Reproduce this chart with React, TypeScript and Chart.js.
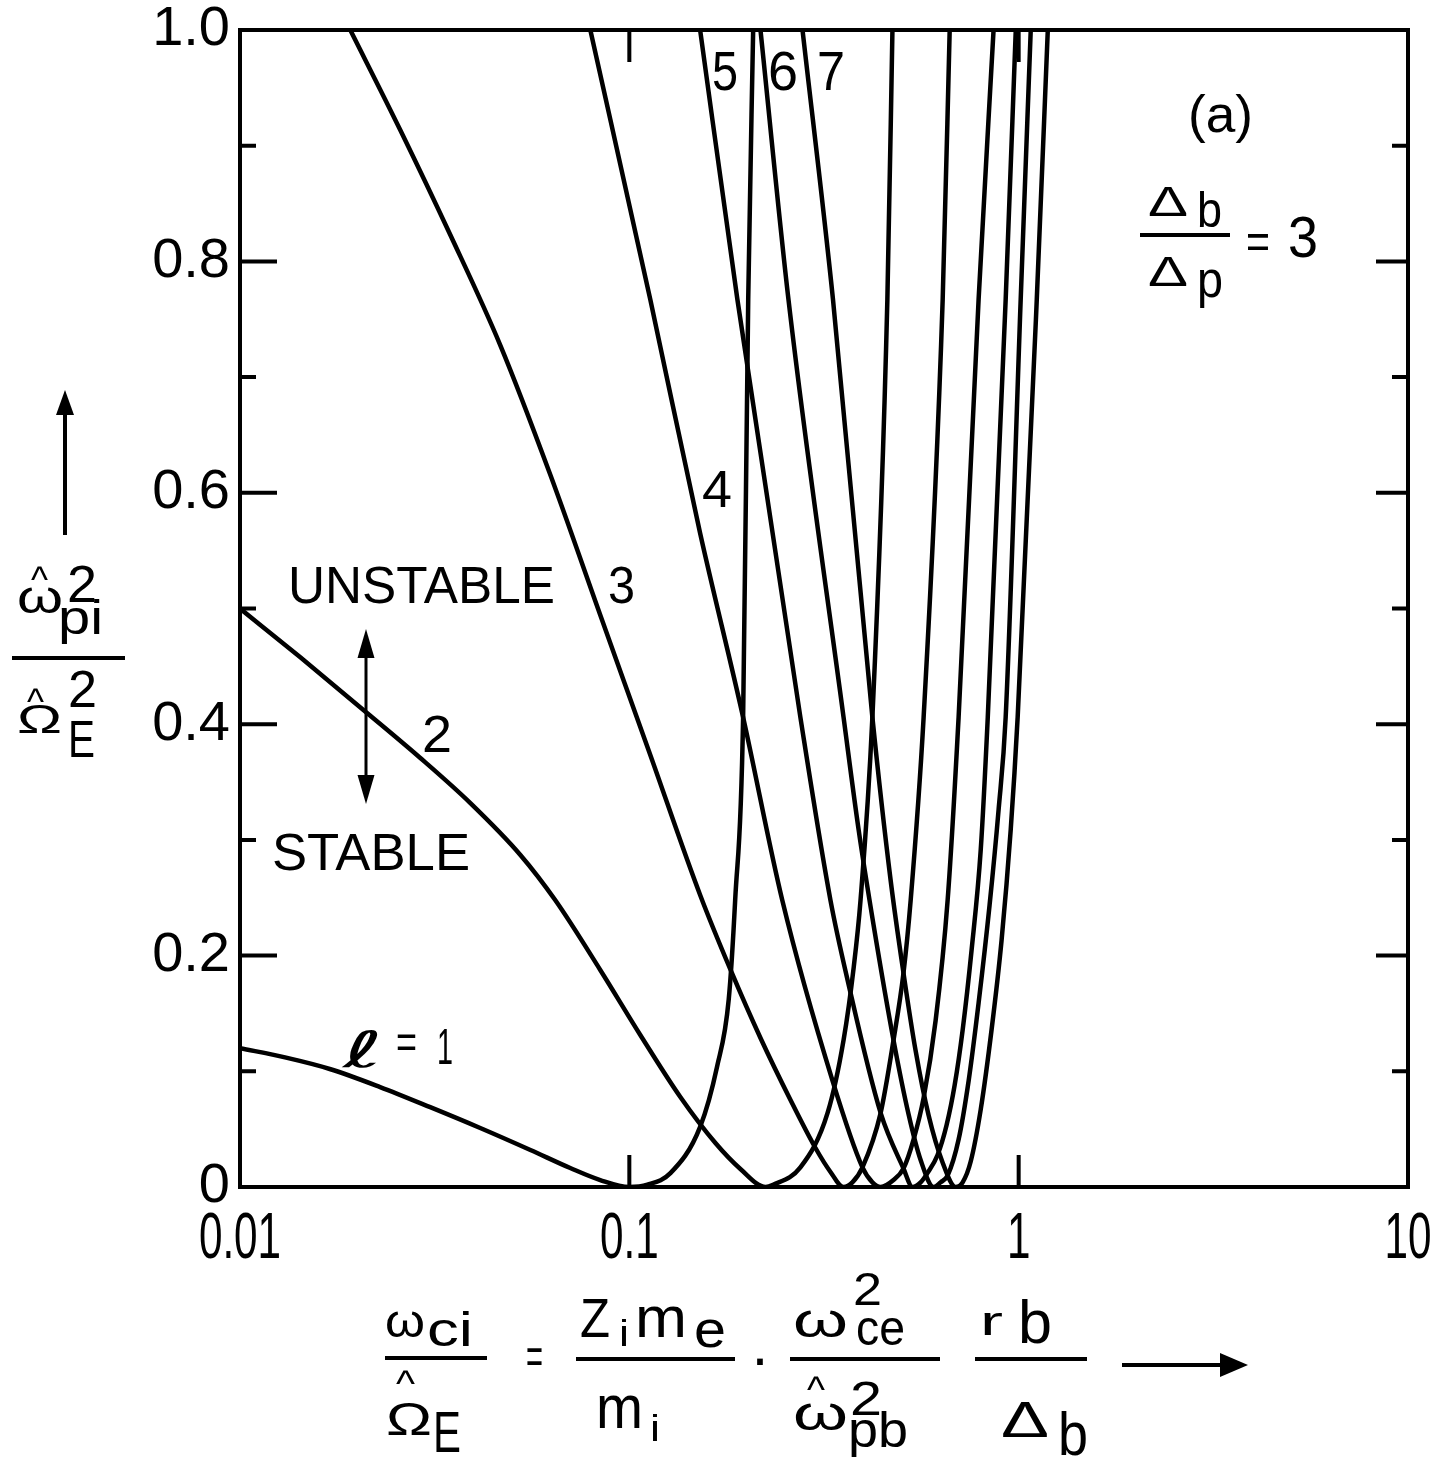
import { useEffect, useRef } from 'react';
import { Chart, registerables } from 'chart.js';

Chart.register(...registerables);

// Axis ticks
const X_TICKS = [0.01, 0.1, 1, 10];
const X_TICK_LABELS = ['0.01', '0.1', '1', '10'];
const Y_MAJOR = [0, 0.2, 0.4, 0.6, 0.8, 1.0];
const Y_TICK_LABELS = ['0', '0.2', '0.4', '0.6', '0.8', '1.0'];
const Y_MINOR = [0.1, 0.3, 0.5, 0.7, 0.9];

// Marginal-stability boundaries, one per mode number l
// x = ω_ci / Ω̂_E, y = ω̂²_pi / Ω̂²_E
const L1_X = [0.01, 0.01305, 0.017, 0.0229, 0.0308, 0.0414, 0.0557, 0.0705, 0.0842, 0.1, 0.1113, 0.1275, 0.152, 0.168, 0.18, 0.187, 0.196, 0.202, 0.208];
const L1_Y = [0.12, 0.112, 0.102, 0.0864, 0.069, 0.051, 0.032, 0.0164, 0.006, 0, 0.002, 0.012, 0.052, 0.104, 0.162, 0.248, 0.406, 0.767, 1.0];

const L2_X = [0.01, 0.01426, 0.0212, 0.029, 0.039, 0.0525, 0.0645, 0.0842, 0.1067, 0.1352, 0.1664, 0.1929, 0.224, 0.234, 0.275, 0.323, 0.355, 0.377, 0.3925, 0.421, 0.46, 0.474];
const L2_Y = [0.5, 0.458, 0.4097, 0.371, 0.332, 0.287, 0.248, 0.1876, 0.1314, 0.0778, 0.038, 0.0156, 0, 0.002, 0.017, 0.064, 0.127, 0.19, 0.248, 0.406, 0.767, 1.0];

const L3_X = [0.0192, 0.0258, 0.0347, 0.0466, 0.0627, 0.0842, 0.1132, 0.152, 0.182, 0.2172, 0.2594, 0.3007, 0.3286, 0.355, 0.374, 0.397, 0.442, 0.477, 0.506, 0.528, 0.57, 0.638, 0.665];
const L3_Y = [1.0, 0.9136, 0.8228, 0.7277, 0.6154, 0.4944, 0.3734, 0.2524, 0.1876, 0.1288, 0.0752, 0.0337, 0.013, 0, 0.004, 0.017, 0.064, 0.127, 0.185, 0.248, 0.406, 0.767, 1.0];

const L4_X = [0.0794, 0.1132, 0.152, 0.196, 0.247, 0.3325, 0.397, 0.421, 0.442, 0.477, 0.506, 0.537, 0.57, 0.612, 0.657, 0.701, 0.789, 0.862];
const L4_Y = [1.0, 0.767, 0.565, 0.406, 0.248, 0.092, 0.017, 0.004, 0, 0.006, 0.016, 0.041, 0.077, 0.144, 0.248, 0.406, 0.767, 1.0];

const L5_X = [0.152, 0.1895, 0.275, 0.3285, 0.3635, 0.442, 0.506, 0.534, 0.56, 0.583, 0.619, 0.653, 0.685, 0.718, 0.757, 0.799, 0.833, 0.926, 0.983];
const L5_Y = [1.0, 0.767, 0.406, 0.248, 0.179, 0.064, 0.016, 0, 0.004, 0.012, 0.0277, 0.0536, 0.0882, 0.1357, 0.2048, 0.2913, 0.406, 0.767, 1.0];

const L6_X = [0.2172, 0.2563, 0.355, 0.388, 0.424, 0.477, 0.522, 0.56, 0.605, 0.63, 0.657, 0.701, 0.744, 0.789, 0.842, 0.888, 0.926, 1.012, 1.074];
const L6_Y = [1.0, 0.767, 0.406, 0.309, 0.2264, 0.127, 0.0622, 0.0233, 0, 0.004, 0.01, 0.041, 0.092, 0.159, 0.2437, 0.326, 0.406, 0.767, 1.0];

const L7_X = [0.2785, 0.3335, 0.421, 0.469, 0.506, 0.5435, 0.587, 0.638, 0.689, 0.718, 0.753, 0.799, 0.852, 0.904, 0.954, 0.994, 1.113, 1.188];
const L7_Y = [1.0, 0.767, 0.406, 0.265, 0.185, 0.118, 0.062, 0.021, 0, 0.004, 0.022, 0.067, 0.136, 0.2135, 0.3086, 0.406, 0.767, 1.0];

const CURVES: [number[], number[]][] = [
  [L1_X, L1_Y],
  [L2_X, L2_Y],
  [L3_X, L3_Y],
  [L4_X, L4_Y],
  [L5_X, L5_Y],
  [L6_X, L6_Y],
  [L7_X, L7_Y],
];

const SANS = '"Liberation Sans", Arimo, "DejaVu Sans", sans-serif';
const SCRIPT = '"DejaVu Sans", sans-serif';

function text(
  ctx: CanvasRenderingContext2D,
  s: string,
  x: number,
  y: number,
  size: number,
  w?: number,
  family: string = SANS,
  style: string = '',
) {
  ctx.font = `${style}${size}px ${family}`;
  ctx.textAlign = 'left';
  ctx.textBaseline = 'alphabetic';
  if (w) {
    const m = ctx.measureText(s).width;
    ctx.save();
    ctx.translate(x, y);
    ctx.scale(w / m, 1);
    ctx.fillText(s, 0, 0);
    ctx.restore();
  } else {
    ctx.fillText(s, x, y);
  }
}

function hline(ctx: CanvasRenderingContext2D, x1: number, x2: number, y: number) {
  ctx.beginPath();
  ctx.moveTo(x1, y);
  ctx.lineTo(x2, y);
  ctx.stroke();
}

function arrowHead(ctx: CanvasRenderingContext2D, tx: number, ty: number, dx: number, dy: number, len: number, half: number) {
  // tip at (tx,ty), pointing along (dx,dy)
  const bx = tx - dx * len;
  const by = ty - dy * len;
  ctx.beginPath();
  ctx.moveTo(tx, ty);
  ctx.lineTo(bx - dy * half, by + dx * half);
  ctx.lineTo(bx + dy * half, by - dx * half);
  ctx.closePath();
  ctx.fill();
}

const framePlugin = {
  id: 'frameAndNotes',
  afterDraw(chart: any) {
    const ctx: CanvasRenderingContext2D = chart.ctx;
    const { left, right, top, bottom } = chart.chartArea;
    const xs = chart.scales.x;
    const ys = chart.scales.y;
    ctx.save();
    ctx.strokeStyle = '#000';
    ctx.fillStyle = '#000';
    ctx.lineWidth = 4;
    ctx.lineCap = 'butt';
    ctx.strokeRect(left, top, right - left, bottom - top);

    // inward tick marks
    ctx.beginPath();
    X_TICKS.forEach((v) => {
      const px = xs.getPixelForValue(v);
      if (px > left + 3 && px < right - 3) {
        ctx.moveTo(px, bottom);
        ctx.lineTo(px, bottom - 32);
        ctx.moveTo(px, top);
        ctx.lineTo(px, top + 32);
      }
    });
    Y_MAJOR.forEach((v) => {
      const py = ys.getPixelForValue(v);
      if (py > top + 3 && py < bottom - 3) {
        ctx.moveTo(left, py);
        ctx.lineTo(left + 37, py);
        ctx.moveTo(right, py);
        ctx.lineTo(right - 32, py);
      }
    });
    Y_MINOR.forEach((v) => {
      const py = ys.getPixelForValue(v);
      ctx.moveTo(left, py);
      ctx.lineTo(left + 16, py);
      ctx.moveTo(right, py);
      ctx.lineTo(right - 16, py);
    });
    ctx.stroke();

    // x tick labels in a condensed lettering
    ctx.font = `64px ${SANS}`;
    ctx.textBaseline = 'alphabetic';
    ctx.textAlign = 'left';
    X_TICKS.forEach((v, i) => {
      const s = X_TICK_LABELS[i];
      const px = xs.getPixelForValue(v);
      const m = ctx.measureText(s).width;
      const sx = 0.66;
      ctx.save();
      ctx.translate(px - (m * sx) / 2, 1258);
      ctx.scale(sx, 1);
      ctx.fillText(s, 0, 0);
      ctx.restore();
    });

    // mode labels
    text(ctx, '5', 712, 90, 56, 26);
    text(ctx, '6', 768, 90, 56, 30);
    text(ctx, '7', 817, 90, 56, 28);
    text(ctx, '4', 702, 507, 52, 30);
    text(ctx, '3', 608, 603, 52, 27);
    text(ctx, '2', 422, 752, 52, 30);
    text(ctx, 'UNSTABLE', 288, 603, 52, 267);
    text(ctx, 'STABLE', 272, 870, 52, 198);
    text(ctx, 'ℓ', 343, 1067, 50, 40, SCRIPT, 'italic ');
    text(ctx, '=', 396, 1058, 48, 21);
    text(ctx, '1', 437, 1064, 50, 16);

    // stability arrow
    ctx.lineWidth = 3;
    ctx.beginPath();
    ctx.moveTo(366, 650);
    ctx.lineTo(366, 785);
    ctx.stroke();
    arrowHead(ctx, 366, 629, 0, -1, 29, 8.5);
    arrowHead(ctx, 366, 804, 0, 1, 29, 8.5);

    // panel tag and parameter
    text(ctx, '(a)', 1188, 132, 52, 65);
    text(ctx, 'Δ', 1148, 216, 42, 40);
    text(ctx, 'b', 1197, 227, 50, 25);
    ctx.lineWidth = 4;
    hline(ctx, 1140, 1230, 235);
    text(ctx, 'Δ', 1148, 286, 42, 40);
    text(ctx, 'p', 1197, 297, 52, 26);
    text(ctx, '=', 1246, 258, 50, 24);
    text(ctx, '3', 1288, 257, 58, 30);

    // vertical axis title
    ctx.lineWidth = 4;
    ctx.beginPath();
    ctx.moveTo(65, 535);
    ctx.lineTo(65, 410);
    ctx.stroke();
    arrowHead(ctx, 65, 390, 0, -1, 25, 9);
    text(ctx, '^', 31, 592, 36, 17);
    text(ctx, 'ω', 17, 613, 46, 46);
    text(ctx, '2', 67, 602, 52, 30);
    text(ctx, 'pi', 58, 634, 48, 45);
    hline(ctx, 12, 125, 658);
    text(ctx, '^', 27, 714, 36, 17);
    text(ctx, 'Ω', 17, 733, 40, 45);
    text(ctx, '2', 68, 707, 52, 29);
    text(ctx, 'E', 68, 757, 52, 27);

    // horizontal axis title
    text(ctx, 'ω', 385, 1337, 46, 40);
    text(ctx, 'ci', 427, 1346, 48, 46);
    hline(ctx, 385, 487, 1358);
    text(ctx, '^', 396, 1396, 36, 19);
    text(ctx, 'Ω', 386, 1435, 46, 46);
    text(ctx, 'E', 433, 1452, 58, 28);
    text(ctx, '=', 526, 1374, 52, 17);
    text(ctx, 'Z', 580, 1337, 56, 30);
    text(ctx, 'i', 619, 1346, 36, 10);
    text(ctx, 'm', 635, 1337, 58, 52);
    text(ctx, 'e', 694, 1347, 52, 32);
    hline(ctx, 576, 735, 1359);
    text(ctx, 'm', 596, 1428, 62, 47);
    text(ctx, 'i', 650, 1441, 36, 10);
    text(ctx, '·', 750, 1378, 60);
    text(ctx, 'ω', 793, 1337, 48, 55);
    text(ctx, '2', 853, 1305, 46, 29);
    text(ctx, 'ce', 856, 1345, 50, 49);
    hline(ctx, 790, 940, 1359);
    text(ctx, '^', 807, 1402, 36, 18);
    text(ctx, 'ω', 793, 1430, 48, 55);
    text(ctx, '2', 850, 1415, 48, 32);
    text(ctx, 'pb', 848, 1447, 50, 60);
    text(ctx, 'r', 980, 1335, 40, 23);
    text(ctx, 'b', 1018, 1343, 62, 34);
    hline(ctx, 975, 1087, 1359);
    text(ctx, 'Δ', 1001, 1437, 50, 48);
    text(ctx, 'b', 1058, 1455, 62, 30);
    ctx.lineWidth = 4;
    hline(ctx, 1122, 1225, 1365);
    arrowHead(ctx, 1248, 1365, 1, 0, 28, 12);

    ctx.restore();
  },
};

export default function App() {
  const ref = useRef<HTMLCanvasElement | null>(null);

  useEffect(() => {
    const canvas = ref.current;
    if (!canvas) return;
    const datasets = CURVES.map(([xs, ys], k) => ({
      label: `l = ${k + 1}`,
      data: xs.map((x, i) => ({ x, y: ys[i] })),
      borderColor: '#000',
      borderWidth: 4.5,
      pointRadius: 0,
      fill: false,
      cubicInterpolationMode: 'monotone' as const,
    }));
    const chart = new Chart(canvas, {
      type: 'line',
      data: { datasets },
      options: {
        responsive: false,
        animation: false,
        devicePixelRatio: 1,
        layout: { padding: { left: 0, right: 24, top: 30, bottom: 0 } },
        plugins: { legend: { display: false }, tooltip: { enabled: false } },
        scales: {
          x: {
            type: 'logarithmic',
            min: 0.01,
            max: 10,
            grid: { display: false, drawTicks: false },
            border: { display: false },
            afterBuildTicks: (s: any) => {
              s.ticks = X_TICKS.map((v) => ({ value: v }));
            },
            afterFit: (s: any) => {
              s.height = 282;
              s.paddingLeft = 0;
              s.paddingRight = 0;
            },
            ticks: {
              display: false,
              autoSkip: false,
              maxRotation: 0,
              callback: (_v: any, i: number) => X_TICK_LABELS[i],
            },
          },
          y: {
            type: 'linear',
            min: 0,
            max: 1,
            grid: { display: false, drawTicks: false },
            border: { display: false },
            afterBuildTicks: (s: any) => {
              s.ticks = Y_MAJOR.map((v) => ({ value: v }));
            },
            afterFit: (s: any) => {
              s.width = 240;
              s.paddingTop = 0;
              s.paddingBottom = 0;
            },
            ticks: {
              autoSkip: false,
              padding: 10,
              color: '#000',
              font: { family: SANS, size: 56 },
              callback: (_v: any, i: number) => Y_TICK_LABELS[i],
            },
          },
        },
      },
      plugins: [framePlugin],
    });
    return () => chart.destroy();
  }, []);

  return (
    <div style={{ position: 'absolute', left: 0, top: 0, width: 1432, height: 1469, background: '#fff' }}>
      <canvas ref={ref} width={1432} height={1469} style={{ display: 'block' }} />
    </div>
  );
}
